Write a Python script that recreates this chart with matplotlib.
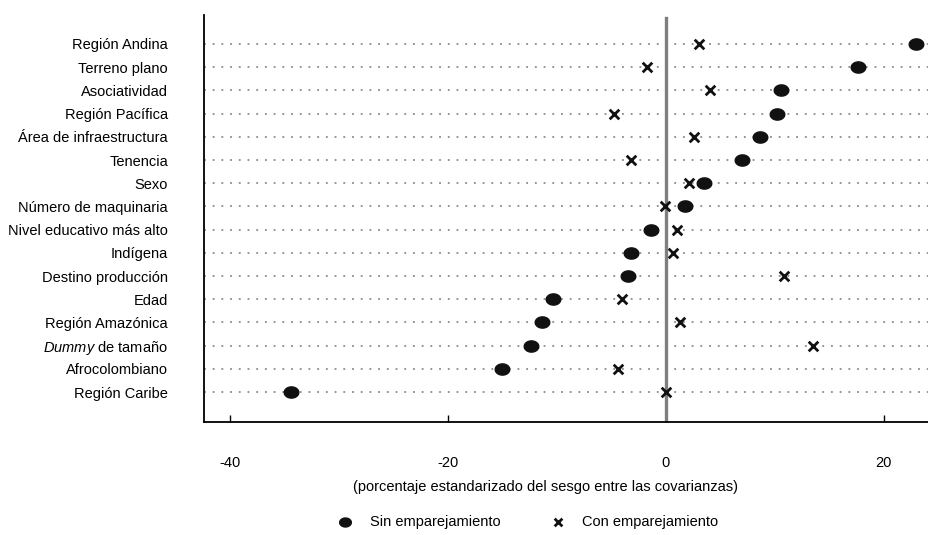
import matplotlib
matplotlib.use("Agg")
import matplotlib.pyplot as plt
import numpy as np
from matplotlib.path import Path

plt.rcParams['font.family'] = ['Liberation Sans', 'DejaVu Sans']
plt.rcParams['mathtext.fontset'] = 'custom'
plt.rcParams['mathtext.it'] = 'Liberation Sans:italic'
plt.rcParams['mathtext.rm'] = 'Liberation Sans'

# variables, top to bottom
variables = ['Región Andina', 'Terreno plano', 'Asociatividad', 'Región Pacífica',
             'Área de infraestructura', 'Tenencia', 'Sexo', 'Número de maquinaria',
             'Nivel educativo más alto', 'Indígena', 'Destino producción', 'Edad',
             'Región Amazónica', r'$\it{Dummy}$ de tamaño', 'Afrocolombiano', 'Región Caribe']
# sesgo estandarizado (%)
sin_emp = [23.0, 17.6, 10.6, 10.2, 8.6, 7.0, 3.5, 1.7,
           -1.4, -3.2, -3.5, -10.4, -11.4, -12.4, -15.1, -34.4]
con_emp = [3.0, -1.7, 4.0, -4.8, 2.6, -3.2, 2.1, -0.1,
           1.0, 0.6, 10.8, -4.0, 1.3, 13.5, -4.4, 0.0]
xticks = [-40, -20, 0, 20]

# elliptical dot marker
t = np.linspace(0, 2 * np.pi, 60)
ellipse = Path(np.column_stack([1.3 * np.cos(t), np.sin(t)]), closed=True)

fig = plt.figure(figsize=(9.29, 5.35), dpi=100)
ax = fig.add_axes([0.2196, 0.2112, 0.7794, 0.7608])

ypos = np.arange(len(variables))
for y in ypos:
    ax.axhline(y, color='#777777', lw=1.1, ls=(0, (1.2, 4.5)), zorder=1)
ax.plot([0, 0], [16.29, -1.1], color='#7f7f7f', lw=2.4, zorder=2)

ax.scatter(sin_emp, ypos, marker=ellipse, s=110, color='#111111', zorder=3,
           label='Sin emparejamiento')
ax.scatter(con_emp, ypos, marker='x', s=48, color='#111111', linewidths=2.0,
           zorder=4, label='Con emparejamiento')

ax.set_xlim(-42.43, 24.07)
ax.set_ylim(16.29, -1.25)
ax.set_yticks(ypos)
ax.set_yticklabels(variables, fontsize=10.5)
ax.tick_params(axis='y', length=0, pad=26)
ax.set_xticks(xticks)
ax.set_xticklabels([str(v) for v in xticks], fontsize=10.5)
ax.tick_params(axis='x', direction='in', length=5, width=1, pad=24.5)

for s in ['top', 'right']:
    ax.spines[s].set_visible(False)
ax.spines['left'].set_linewidth(1.3)
ax.spines['bottom'].set_linewidth(1.3)

fig.text(0.587, 1 - 487 / 535, '(porcentaje estandarizado del sesgo entre las covarianzas)',
         ha='center', va='center', fontsize=10.5)

fig.legend(loc='center left', bbox_to_anchor=(0.3638, 1 - 522 / 535), ncol=2, frameon=False,
           fontsize=10.5, columnspacing=3.4, handlelength=1.0, handletextpad=1.2,
           borderpad=0, borderaxespad=0, markerscale=0.8)

fig.savefig('out.png', dpi=100)
